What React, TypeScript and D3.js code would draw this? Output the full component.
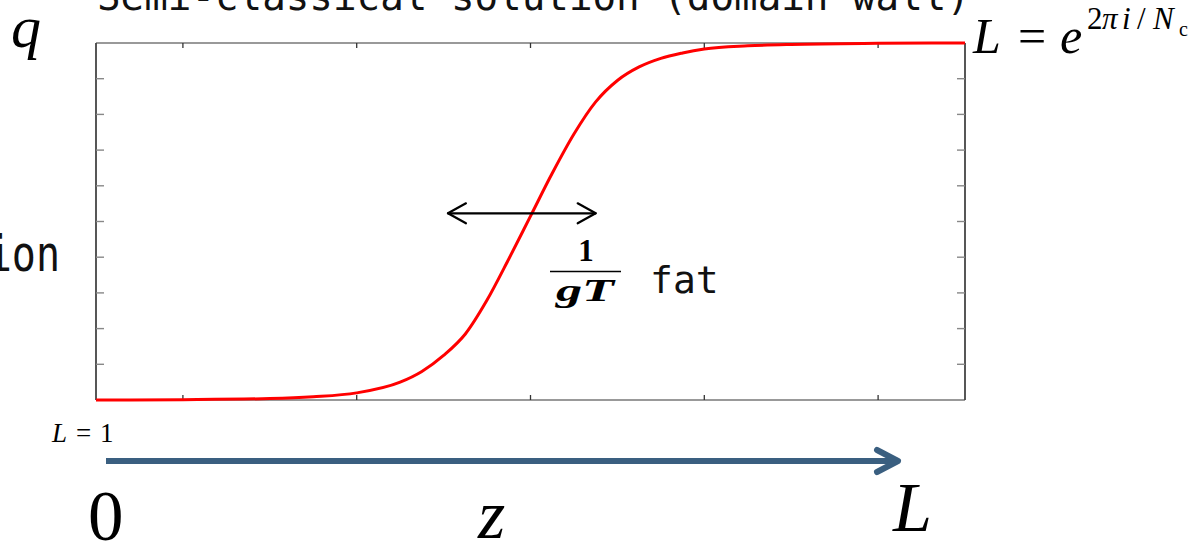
import React from "react";
import * as d3 from "d3";

// Position along the wall (z, in tenths of L) and the field value q (0 → 1)
const zValues = [0, 1, 2, 2.5, 3, 3.5, 3.75, 4, 4.25, 4.5, 4.75, 5, 5.25, 5.5, 5.75, 6, 6.25, 6.5, 6.75, 7, 7.5, 8, 9, 10];
const qValues = [0, 0.001, 0.004, 0.009, 0.02, 0.05, 0.08, 0.125, 0.185, 0.28, 0.395, 0.515, 0.635, 0.745, 0.835, 0.895, 0.933, 0.957, 0.972, 0.983, 0.992, 0.996, 0.999, 1];

// Tick positions
const xTicks = [1, 3, 5, 7, 9];
const yTicks = [0.1, 0.2, 0.3, 0.4, 0.5, 0.6, 0.7, 0.8, 0.9];

// Width marker of the wall (in z units)
const wallSpan = [4.05, 5.75];
const wallLevel = 0.523;

const W = 1196;
const H = 546;
const serif = "'Liberation Serif', 'Times New Roman', serif";
const mono = "'DejaVu Sans Mono', monospace";

export default function App() {
  const x = d3.scaleLinear().domain([0, 10]).range([96, 965]);
  const y = d3.scaleLinear().domain([0, 1]).range([400, 43]);

  const data = zValues.map((z, i) => ({ z, q: qValues[i] }));
  const line = d3
    .line<{ z: number; q: number }>()
    .x((d) => x(d.z))
    .y((d) => y(d.q))
    .curve(d3.curveMonotoneX);

  const [x0, x1] = x.range();
  const [yb, yt] = y.range();

  const ax0 = x(wallSpan[0]);
  const ax1 = x(wallSpan[1]);
  const ay = y(wallLevel);

  return (
    <div style={{ position: "absolute", left: 0, top: 0 }}>
      <svg width={W} height={H} style={{ display: "block", background: "#fff" }}>
        {/* title */}
        <text x={97} y={10} fontFamily={mono} fontSize={39} fill="#111" textLength={873} lengthAdjust="spacingAndGlyphs">
          Semi-classical solution (domain wall)
        </text>

        {/* left label */}
        <text transform="translate(60,271) scale(0.8,1)" textAnchor="end" fontFamily={mono} fontSize={50} fill="#111">
          configuration
        </text>

        {/* frame */}
        <line x1={x0} x2={x1} y1={yt} y2={yt} stroke="#777" strokeWidth={1.6} />
        <line x1={x0} x2={x1} y1={yb} y2={yb} stroke="#777" strokeWidth={1.6} />
        <line x1={x0} x2={x0} y1={yt} y2={yb} stroke="#444" strokeWidth={1.8} />
        <line x1={x1} x2={x1} y1={yt} y2={yb} stroke="#444" strokeWidth={1.8} />

        {/* y ticks, inside both sides */}
        {yTicks.map((t) => (
          <g key={"y" + t}>
            <line x1={x0} x2={x0 + 8} y1={y(t)} y2={y(t)} stroke="#888" strokeWidth={1.4} />
            <line x1={x1} x2={x1 - 8} y1={y(t)} y2={y(t)} stroke="#888" strokeWidth={1.4} />
          </g>
        ))}
        {/* x ticks, inside top and bottom */}
        {xTicks.map((t) => (
          <g key={"x" + t}>
            <line x1={x(t)} x2={x(t)} y1={yb} y2={yb - 5} stroke="#333" strokeWidth={1.3} />
            <line x1={x(t)} x2={x(t)} y1={yt} y2={yt + 5} stroke="#333" strokeWidth={1.3} />
          </g>
        ))}

        {/* domain wall profile */}
        <path d={line(data) || ""} fill="none" stroke="#ff0000" strokeWidth={3} />

        {/* width marker */}
        <g stroke="#000" strokeWidth={2.2} fill="none" strokeLinecap="round" strokeLinejoin="round">
          <line x1={ax0} x2={ax1} y1={ay} y2={ay} />
          <polyline points={`${ax0 + 18},${ay - 10} ${ax0},${ay} ${ax0 + 18},${ay + 10}`} />
          <polyline points={`${ax1 - 18},${ay - 10} ${ax1},${ay} ${ax1 - 18},${ay + 10}`} />
        </g>

        {/* 1/gT fat */}
        <text x={586} y={261} textAnchor="middle" fontFamily={serif} fontWeight="bold" fontSize={31}>1</text>
        <line x1={550} x2={621} y1={271.5} y2={271.5} stroke="#000" strokeWidth={1.6} />
        <text x={556} y={301} fontFamily={serif} fontWeight="bold" fontStyle="italic" fontSize={31} textLength={58} lengthAdjust="spacingAndGlyphs">gT</text>
        <text x={650} y={293} fontFamily={mono} fontSize={38} fill="#111">fat</text>

        {/* q label */}
        <text x={11} y={47} fontFamily={serif} fontStyle="italic" fontSize={60}>q</text>

        {/* L = e^{2πi/Nc} */}
        <text y={53} fontFamily={serif} fontSize={50}>
          <tspan x={973} fontStyle="italic">L</tspan>
          <tspan x={1018}>=</tspan>
          <tspan x={1060} fontStyle="italic">e</tspan>
        </text>
        <text y={29} fontFamily={serif} fontSize={31}>
          <tspan x={1087}>2</tspan>
          <tspan x={1102} fontStyle="italic">π</tspan>
          <tspan x={1122} fontStyle="italic">i</tspan>
          <tspan x={1137}>/</tspan>
          <tspan x={1153} fontStyle="italic">N</tspan>
        </text>
        <text x={1179} y={36} fontFamily={serif} fontSize={20}>c</text>

        {/* L = 1 */}
        <text y={442} fontFamily={serif} fontSize={27}>
          <tspan x={52} fontStyle="italic">L</tspan>
          <tspan x={76}>=</tspan>
          <tspan x={100}>1</tspan>
        </text>

        {/* z axis arrow */}
        <g stroke="#3a5f80" strokeWidth={6} fill="none" strokeLinecap="round" strokeLinejoin="round">
          <line x1={106} x2={898} y1={461} y2={461} strokeLinecap="butt" />
          <polyline points="877,450 898,461 877,472" />
        </g>

        <text x={88} y={540} fontFamily={serif} fontSize={71}>0</text>
        <text x={478} y={538} fontFamily={serif} fontStyle="italic" fontSize={70}>z</text>
        <text x={893} y={531} fontFamily={serif} fontStyle="italic" fontSize={70}>L</text>
      </svg>
    </div>
  );
}
